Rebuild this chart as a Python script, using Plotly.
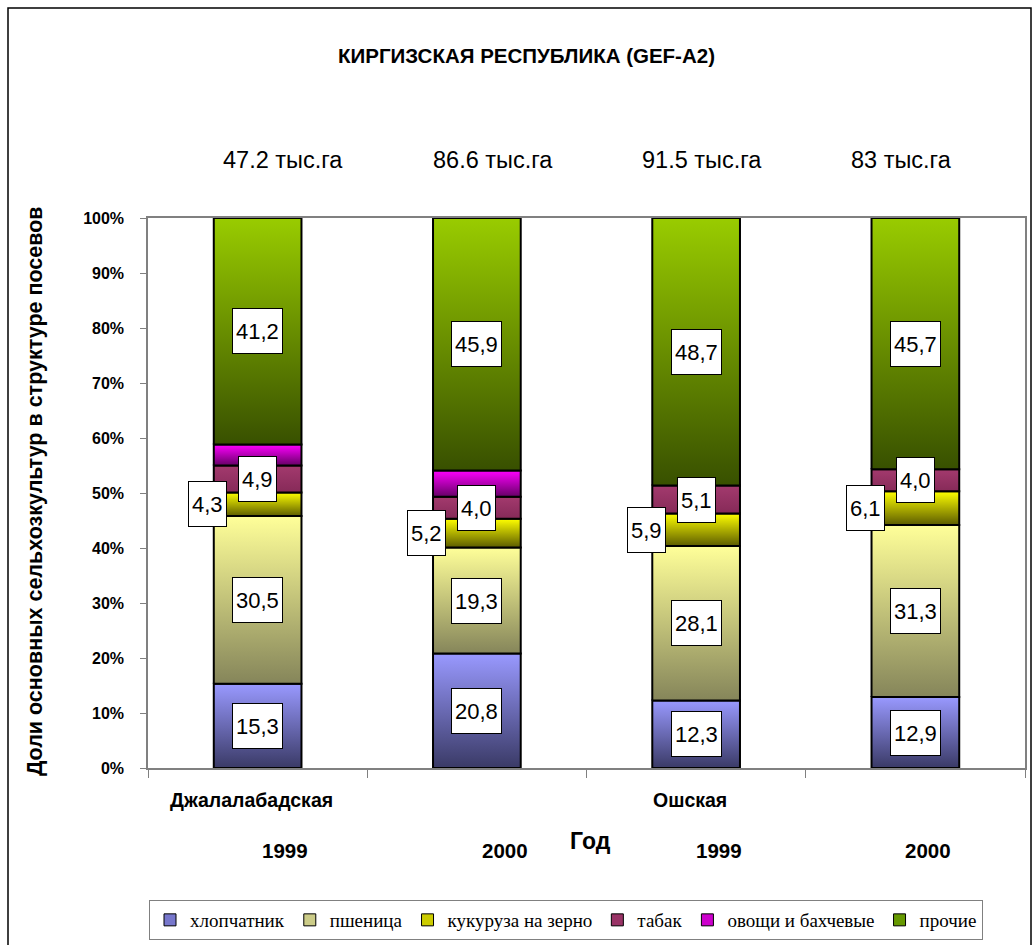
import plotly.graph_objects as go

# ---- data ----
categories = ["Джалалабадская 1999", "Джалалабадская 2000", "Ошская 1999", "Ошская 2000"]
regions = ["Джалалабадская", "", "Ошская", ""]
years = ["1999", "2000", "1999", "2000"]
areas = ["47.2 тыс.га", "86.6 тыс.га", "91.5 тыс.га", "83 тыс.га"]

series_names = ["хлопчатник", "пшеница", "кукуруза на зерно", "табак", "овощи и бахчевые", "прочие"]
cotton = [15.3, 20.8, 12.3, 12.9]
wheat = [30.5, 19.3, 28.1, 31.3]
corn = [4.3, 5.2, 5.9, 6.1]
tobacco = [4.9, 4.0, 5.1, 4.0]
vegetables = [3.8, 4.8, 0.0, 0.0]
other = [41.2, 45.9, 48.7, 45.7]
series_values = [cotton, wheat, corn, tobacco, vegetables, other]
show_labels = [True, True, True, True, False, True]

y_ticks = [0, 10, 20, 30, 40, 50, 60, 70, 80, 90, 100]
y_tick_labels = [f"<b>{t}%</b>" for t in y_ticks]

# ---- styles ----
light = ["#9999ff", "#ffff99", "#ffff00", "#a33a6e", "#ff00ff", "#99cc00"]
dark = ["#3a3a66", "#85855a", "#5c5c00", "#862a58", "#660066", "#385000"]
legend_col = ["#7777cc", "#cccc88", "#cccc00", "#993366", "#cc00cc", "#669900"]
label_xshift = [0, 0, -50, 0, 0, 0]
bar_half = 0.2
FONT = "Liberation Sans"


def py(pix):
    """reference pixel row -> paper y"""
    return (768 - pix) / 550


def px(pix):
    """reference pixel column -> paper x"""
    return (pix - 148) / 877


fig = go.Figure()

n = len(categories)
totals = [sum(s[i] for s in series_values) for i in range(n)]
bottoms = [0.0] * n
label_anns = []
for k, vals in enumerate(series_values):
    for i in range(n):
        share = vals[i] / totals[i] * 100
        b = bottoms[i]
        t = b + share
        if share > 0:
            fig.add_trace(go.Scatter(
                x=[i - bar_half, i + bar_half, i + bar_half, i - bar_half, i - bar_half],
                y=[b, b, t, t, b],
                mode="lines", fill="toself",
                fillgradient=dict(type="vertical", colorscale=[[0, dark[k]], [1, light[k]]]),
                line=dict(color="black", width=2),
                showlegend=False, hoverinfo="skip",
            ))
            if show_labels[k]:
                label_anns.append(dict(
                    x=i, y=(b + t) / 2, xref="x", yref="y",
                    text=f"{vals[i]:.1f}".replace(".", ","),
                    showarrow=False, xshift=label_xshift[k],
                    font=dict(family=FONT, size=22, color="black"),
                    bgcolor="white", bordercolor="black", borderwidth=1,
                    borderpad=3, height=38,
                ))
        bottoms[i] = t

# legend-only dummy traces
for k, name in enumerate(series_names):
    fig.add_trace(go.Bar(
        x=[None], y=[None], name=name,
        marker=dict(color=legend_col[k], line=dict(color="black", width=1)),
    ))

anns = list(label_anns)
area_shift = [25, 16, 6, -14]
for i, a in enumerate(areas):
    anns.append(dict(x=i, y=py(160), xref="x", yref="paper", yanchor="middle",
                     xshift=area_shift[i], text=a, showarrow=False,
                     font=dict(family=FONT, size=23.5, color="black")))
for i, r in enumerate(regions):
    if r:
        anns.append(dict(x=i, y=py(800), xref="x", yref="paper", yanchor="middle",
                         xshift=-6, text=f"<b>{r}</b>", showarrow=False,
                         font=dict(family=FONT, size=19.5, color="black")))
year_shift = [27, 28, 23, 13]
for i, yv in enumerate(years):
    anns.append(dict(x=i, y=py(850), xref="x", yref="paper", yanchor="middle",
                     xshift=year_shift[i], text=f"<b>{yv}</b>", showarrow=False,
                     font=dict(family=FONT, size=20.5, color="black")))
anns.append(dict(x=px(590), y=py(841), xref="paper", yref="paper",
                 xanchor="center", yanchor="middle",
                 text="<b>Год</b>", showarrow=False,
                 font=dict(family=FONT, size=23, color="black")))
anns.append(dict(x=px(35), y=py(491), xref="paper", yref="paper",
                 xanchor="center", yanchor="middle",
                 text="<b>Доли основных сельхозкультур в структуре посевов</b>",
                 textangle=-90, showarrow=False,
                 font=dict(family=FONT, size=21.5, color="black")))
anns.append(dict(x=px(526), y=py(55), xref="paper", yref="paper",
                 xanchor="center", yanchor="middle",
                 text="<b>КИРГИЗСКАЯ РЕСПУБЛИКА (GEF-A2)</b>", showarrow=False,
                 font=dict(family=FONT, size=20.5, color="black")))

fig.update_layout(
    width=1035, height=945,
    margin=dict(l=148, r=10, t=218, b=177, autoexpand=False),
    paper_bgcolor="white", plot_bgcolor="white",
    showlegend=True,
    legend=dict(orientation="h", x=px(566), xanchor="center",
                y=py(900), yanchor="top",
                font=dict(family="Liberation Serif", size=19, color="black"),
                bordercolor="#808080", borderwidth=1, bgcolor="white",
                itemwidth=30, tracegroupgap=0),
    annotations=anns,
    shapes=[dict(type="rect", xref="paper", yref="paper",
                 x0=px(8), x1=px(1031), y0=py(990), y1=py(8),
                 line=dict(color="black", width=1.5), layer="below")],
)
fig.update_xaxes(range=[-0.5, 3.5], tickvals=[-0.5, 0.5, 1.5, 2.5, 3.5],
                 showticklabels=False, ticks="outside", ticklen=8, tickcolor="#808080",
                 showline=True, linecolor="#808080", linewidth=1.5, mirror=True,
                 showgrid=False, zeroline=False)
fig.update_yaxes(range=[0, 100], tickvals=y_ticks, ticktext=y_tick_labels,
                 ticks="outside", ticklen=6, tickcolor="#808080", ticklabelstandoff=13,
                 tickfont=dict(family=FONT, size=16, color="black"),
                 showline=True, linecolor="#808080", linewidth=1.5, mirror=True,
                 showgrid=False, zeroline=False)

fig.write_html("out.html", config={"displayModeBar": False},
               post_script="document.body.style.margin='0';")
